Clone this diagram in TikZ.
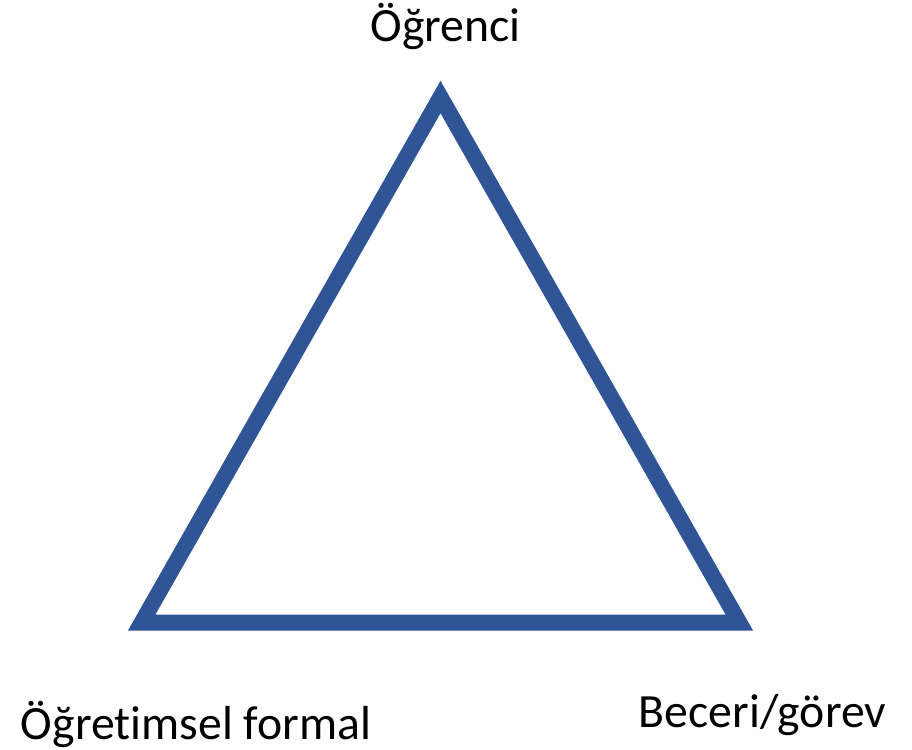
\documentclass[tikz,border=0pt]{standalone}
\usepackage{fontspec}
\setmainfont{Carlito}[RawFeature={-liga}]
\usepackage{tikz}
\usetikzlibrary{positioning}
\definecolor{triblue}{RGB}{47,85,151}

\begin{document}
\begin{tikzpicture}[
  x=0.75pt,
  y=-0.75pt,
  side/.style={
    draw=triblue,
    line width=12pt,
    line join=miter
  },
  label/.style={
    anchor=base,
    inner sep=0pt,
    font=\fontsize{35.8}{42}\selectfont
  }
]
\useasboundingbox (0,0) rectangle (912,749);
\coordinate (apex) at (440.5,97);
\coordinate (left) at (141.6,622.7);
\coordinate (right) at (739.4,622.7);
\draw[side] (apex) -- (left) -- (right) -- cycle;

\node[label] (ogrenci) at (445.5,42) {Öğrenci};
\node[label] (ogretim) at (196,739) {Öğretimsel formal};
\node[label] (beceri) at (762.5,727) {Beceri/görev};
\end{tikzpicture}
\end{document}
